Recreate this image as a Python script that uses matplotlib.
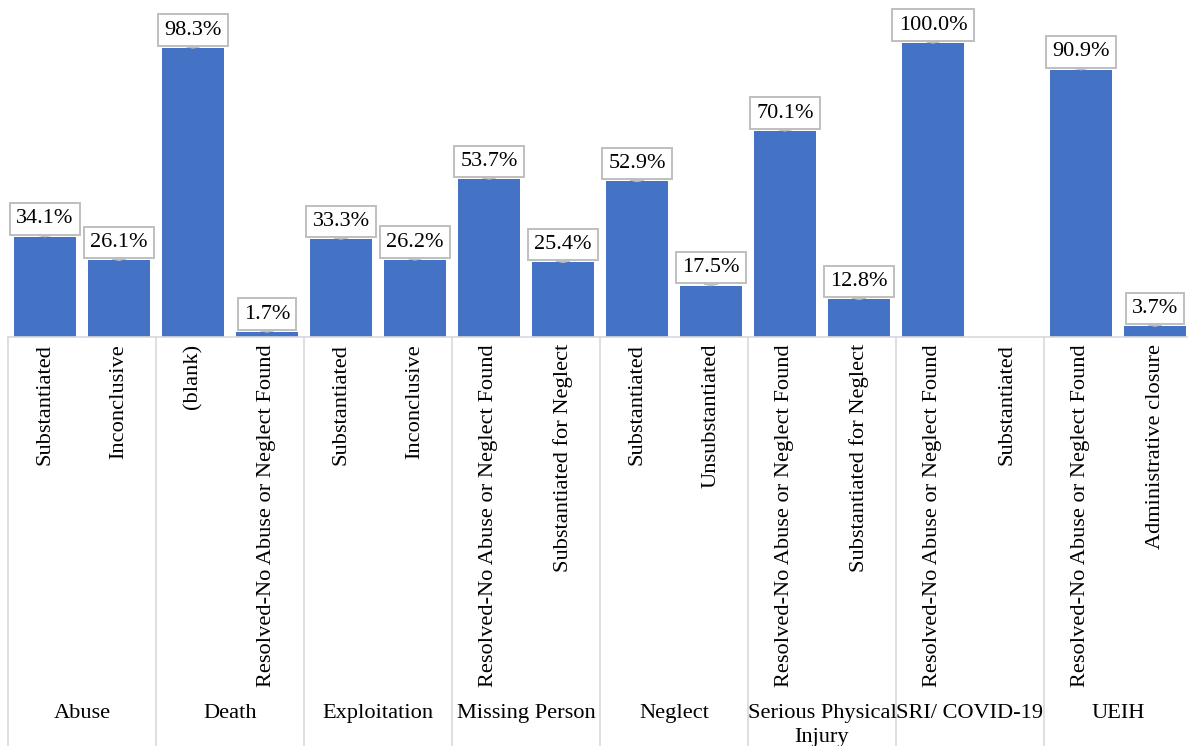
import numpy as np
import matplotlib.pyplot as plt
import matplotlib.transforms as mtransforms

plt.rcParams['font.family'] = ['Liberation Serif', 'DejaVu Serif']

groups = ['Abuse', 'Death', 'Exploitation', 'Missing Person', 'Neglect',
          'Serious Physical\nInjury', 'SRI/ COVID-19', 'UEIH']
outcomes = ['Substantiated', 'Inconclusive',
            '(blank)', 'Resolved-No Abuse or Neglect Found',
            'Substantiated', 'Inconclusive',
            'Resolved-No Abuse or Neglect Found', 'Substantiated for Neglect',
            'Substantiated', 'Unsubstantiated',
            'Resolved-No Abuse or Neglect Found', 'Substantiated for Neglect',
            'Resolved-No Abuse or Neglect Found', 'Substantiated',
            'Resolved-No Abuse or Neglect Found', 'Administrative closure']
share = [34.1, 26.1,
         98.3, 1.7,
         33.3, 26.2,
         53.7, 25.4,
         52.9, 17.5,
         70.1, 12.8,
         100.0, np.nan,
         90.9, 3.7]

W, H = 1188, 746
fig = plt.figure(figsize=(W / 100, H / 100), dpi=100)
ax = fig.add_axes([8 / W, (H - 337) / H, 16 * 74 / W, 329 / H])

x = np.arange(len(outcomes))
vals = np.array(share) / 100
ax.bar(x, np.nan_to_num(vals), width=0.84, color='#4472C4', zorder=2)

ax.set_xlim(-0.5, len(outcomes) - 0.5)
ax.set_ylim(0, 329 / 294)
ax.set_yticks([])
for s in ['top', 'right', 'left']:
    ax.spines[s].set_visible(False)
ax.spines['bottom'].set_color('#D9D9D9')
ax.spines['bottom'].set_linewidth(1.2)

ax.set_xticks(x)
ax.set_xticklabels(outcomes, rotation=90, fontsize=16.1)
ax.tick_params(axis='x', length=0, pad=5)

# data label callouts
for xi, v, s in zip(x, vals, share):
    if np.isnan(v):
        continue
    ax.annotate(f'{s:.1f}%', xy=(xi, v), xytext=(0, 6), textcoords='offset points',
                ha='center', va='bottom', fontsize=16,
                bbox=dict(boxstyle='square,pad=0.28', fc='white', ec='#BFBFBF', lw=1.4),
                arrowprops=dict(arrowstyle='wedge,tail_width=0.6,shrink_factor=0.5',
                                fc='white', ec='#BFBFBF', lw=1.0,
                                shrinkA=0, shrinkB=0),
                zorder=3)

# group dividers and group names
trans = mtransforms.blended_transform_factory(ax.transData, ax.transAxes)
for b in np.arange(-0.5, len(outcomes), 2):
    ax.plot([b, b], [0, -1.3], transform=trans, color='#D9D9D9', lw=1.2, clip_on=False)

ftrans = mtransforms.blended_transform_factory(ax.transData, fig.transFigure)
for i, g in enumerate(groups):
    ax.text(2 * i + 0.5, (H - 704) / H, g, transform=ftrans, ha='center', va='top',
            fontsize=16.1, linespacing=1.35)

fig.savefig('out.png', dpi=100)
